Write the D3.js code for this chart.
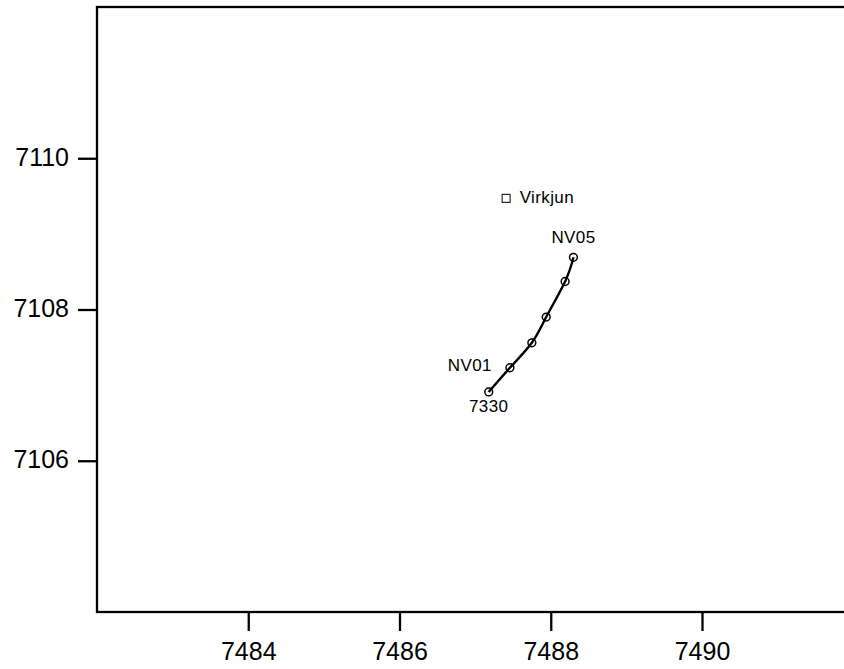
<!DOCTYPE html>
<html>
<head>
<meta charset="utf-8">
<script src="https://cdn.jsdelivr.net/npm/d3@7"></script>
<style>
  body { margin: 0; background: #fff; }
  svg { display: block; }
  text { font-family: "Liberation Sans", Arial, Helvetica, sans-serif; fill: #000; }
</style>
</head>
<body>
<svg id="chart" width="844" height="669"></svg>
<script>
// Data
const xDomain = [7482, 7492];
const yDomain = [7104, 7112];
const xTicks = [7484, 7486, 7488, 7490];
const yTicks = [7106, 7108, 7110];

const profileX = [7487.18, 7487.46, 7487.75, 7487.94, 7488.19, 7488.30];
const profileY = [7106.91, 7107.23, 7107.56, 7107.90, 7108.37, 7108.69];

const siteName = ["Virkjun"];
const siteX = [7487.41];
const siteY = [7109.47];

const stationLabels = ["7330", "NV01", "NV05"];
const stationLabelIdx = [0, 1, 5];

const svg = d3.select("#chart");
const mLeft = 97, mTop = 7, mBottom = 612;
const pxPerUnit = (mBottom - mTop) / (yDomain[1] - yDomain[0]);

const x = d3.scaleLinear().domain(xDomain).range([mLeft, mLeft + pxPerUnit * (xDomain[1] - xDomain[0])]);
const y = d3.scaleLinear().domain(yDomain).range([mBottom, mTop]);

// Frame
svg.append("rect")
  .attr("x", x(xDomain[0])).attr("y", y(yDomain[1]))
  .attr("width", x(xDomain[1]) - x(xDomain[0]))
  .attr("height", y(yDomain[0]) - y(yDomain[1]))
  .attr("fill", "none").attr("stroke", "#000").attr("stroke-width", 2.3);

// Axes
const xAxis = d3.axisBottom(x).tickValues(xTicks).tickFormat(d3.format("d")).tickSize(19).tickPadding(11);
const yAxis = d3.axisLeft(y).tickValues(yTicks).tickFormat(d3.format("d")).tickSize(19).tickPadding(9);

const gx = svg.append("g").attr("transform", `translate(0,${mBottom})`).call(xAxis);
const gy = svg.append("g").attr("transform", `translate(${mLeft},0)`).call(yAxis);
[gx, gy].forEach(g => {
  g.select(".domain").remove();
  g.selectAll(".tick line").attr("stroke", "#000").attr("stroke-width", 2.3);
  g.selectAll(".tick text").style("font-size", "25px").attr("fill", "#000");
});
gy.selectAll(".tick text").attr("dy", "0.28em");

// Profile line
const pts = profileX.map((v, i) => [x(v), y(profileY[i])]);
svg.append("path")
  .attr("d", d3.line().curve(d3.curveNatural)(pts))
  .attr("fill", "none").attr("stroke", "#000").attr("stroke-width", 2.4);

svg.selectAll("circle.st").data(pts).enter().append("circle")
  .attr("class", "st")
  .attr("cx", d => d[0]).attr("cy", d => d[1]).attr("r", 3.9)
  .attr("fill", "none").attr("stroke", "#000").attr("stroke-width", 1.5);

// Site square
siteX.forEach((sx, i) => {
  const cx = x(sx), cy = y(siteY[i]);
  svg.append("rect").attr("x", cx - 4).attr("y", cy - 4).attr("width", 8).attr("height", 8)
    .attr("fill", "none").attr("stroke", "#000").attr("stroke-width", 1);
  svg.append("text").attr("x", cx + 13.5).attr("y", cy + 4.5)
    .style("font-size", "17px").style("letter-spacing", "0.4px").text(siteName[i]);
});

// Station labels
const labelOffsets = [
  {dx: 0, dy: 20, anchor: "middle"},
  {dx: -18, dy: 3, anchor: "end"},
  {dx: 0, dy: -14, anchor: "middle"}
];
stationLabels.forEach((lab, i) => {
  const p = pts[stationLabelIdx[i]];
  const o = labelOffsets[i];
  svg.append("text").attr("x", p[0] + o.dx).attr("y", p[1] + o.dy)
    .attr("text-anchor", o.anchor)
    .style("font-size", "17px").style("letter-spacing", "0.4px").text(lab);
});
</script>
</body>
</html>
